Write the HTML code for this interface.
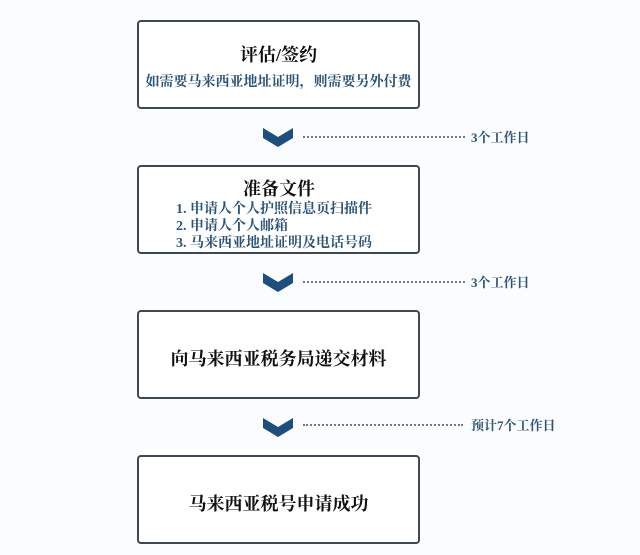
<!DOCTYPE html>
<html><head><meta charset="utf-8"><style>
body{margin:0;width:640px;height:555px;background:#fbfcfd;font-family:"Liberation Serif","Noto Serif CJK SC",serif;position:relative;overflow:hidden}
.b{position:absolute;left:137px;width:283px;border:2px solid #3d4852;border-radius:4px;background:#fff;box-sizing:border-box;height:89px;text-align:center;color:#111}
.t{font-weight:bold;font-size:18px}
.s{color:#2a5478;font-weight:bold;font-size:14px}
.dl{position:absolute;left:303px;width:162px;border-top:2px dotted #6b7a88;height:0}
.lb{position:absolute;left:471px;font-size:13px;color:#2a5478;font-weight:bold}
svg{position:absolute;left:262px}
</style></head><body>
<div class="b" style="top:20px"><div class="t" style="margin-top:19px">评估/签约</div><div class="s" style="margin-top:4px">如需要马来西亚地址证明，则需要另外付费</div></div>
<div class="b" style="top:165px;text-align:left"><div class="t" style="margin-top:8px;padding-left:104px">准备文件</div><div class="s" style="padding-left:37px;line-height:17px">1. 申请人个人护照信息页扫描件<br>2. 申请人个人邮箱<br>3. 马来西亚地址证明及电话号码</div></div>
<div class="b" style="top:310px"><div class="t" style="margin-top:33px">向马来西亚税务局递交材料</div></div>
<div class="b" style="top:455px"><div class="t" style="margin-top:33px">马来西亚税号申请成功</div></div>
<svg style="top:127px" width="32" height="22"><polygon points="1,1 16,10 31,1 31,11 16,20 1,11" fill="#1d4e7e"/></svg>
<svg style="top:272px" width="32" height="22"><polygon points="1,1 16,10 31,1 31,11 16,20 1,11" fill="#1d4e7e"/></svg>
<svg style="top:417px" width="32" height="22"><polygon points="1,1 16,10 31,1 31,11 16,20 1,11" fill="#1d4e7e"/></svg>
<div class="dl" style="top:136px"></div><div class="lb" style="top:127px">3个工作日</div>
<div class="dl" style="top:281px"></div><div class="lb" style="top:272px">3个工作日</div>
<div class="dl" style="top:424px;width:160px"></div><div class="lb" style="top:415px">预计7个工作日</div>
</body></html>
